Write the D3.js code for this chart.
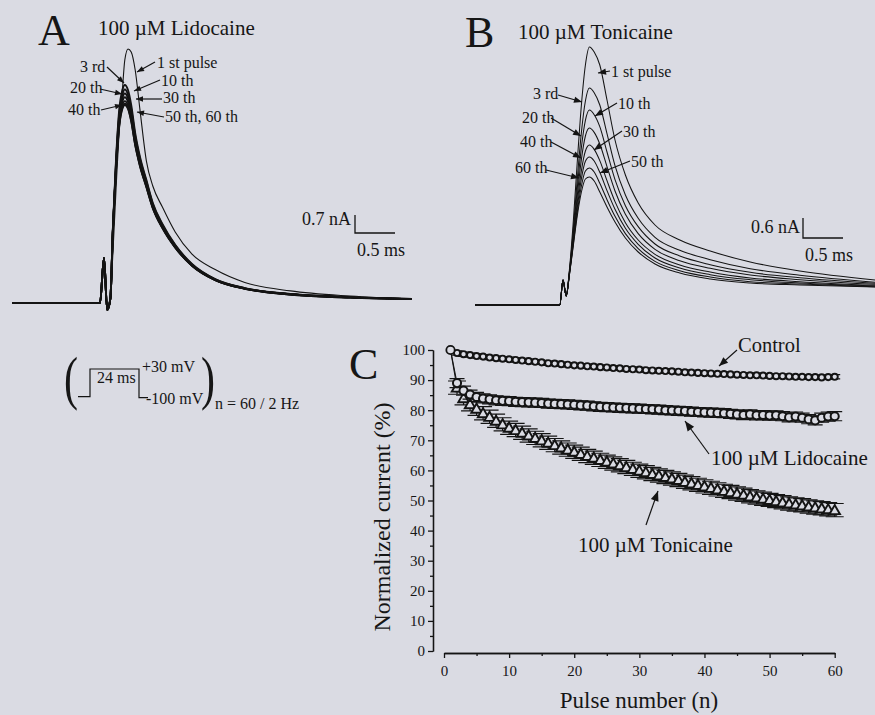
<!DOCTYPE html>
<html><head><meta charset="utf-8">
<script src="https://cdn.jsdelivr.net/npm/d3@7"></script>
<style>
body{margin:0;background:#dadbe3}
svg{display:block}
text{font-family:"Liberation Serif","Times New Roman",serif;fill:#161616}
</style>
</head><body>
<svg id="fig" width="875" height="715"></svg>
<script>
// ---------------- DATA ----------------
// Panel C: normalized current (%) for pulse numbers 1..60
const pulseNumbers = d3.range(1, 61);
const controlPct = [100,99,98.6,98.3,98,97.8,97.5,97.3,97.1,96.9,96.7,96.5,96.3,96.1,95.9,95.6,95.5,95.3,95.1,94.9,
  94.8,94.6,94.5,94.3,94.2,94,93.9,93.7,93.6,93.5,93.3,93.2,93.1,93,92.9,92.8,92.6,92.5,92.4,92.3,
  92.2,92.1,92,91.9,91.8,91.7,91.6,91.6,91.5,91.4,91.3,91.3,91.2,91.1,91.1,91,91,90.9,91,91.1];
const lidocainePct = [100,89,86.5,85.2,84.4,83.9,83.6,83.3,83.1,83,82.8,82.7,82.6,82.5,82.4,82.2,82.1,82,81.9,81.8,
  81.6,81.5,81.3,81.1,81,80.9,80.8,80.7,80.6,80.5,80.4,80.3,80.2,80,79.9,79.8,79.7,79.5,79.4,79.3,
  79.2,79.1,79,78.8,78.6,78.4,78.6,78.3,78.4,78.2,78.3,78,77.6,77.9,77.5,77,76.6,77.5,77.9,78];
const tonicainePct = [100,87.5,84,82,80.5,79,77.8,76.5,75.3,74.2,73.4,72.5,71.6,70.8,70,69.2,68.4,67.6,66.9,66.2,
  65.5,64.8,64.2,63.5,62.9,62.3,61.7,61.1,60.5,59.9,59.4,58.8,58.3,57.8,57.3,56.8,56.2,55.7,55.2,54.7,
  54.2,53.7,53.2,52.8,52.3,51.9,51.4,51,50.6,50.2,49.8,49.4,49,48.7,48.4,48,47.7,47.4,47.1,46.8];
const seriesNames = ["Control", "100 µM Lidocaine", "100 µM Tonicaine"];
const seriesSEM = [0.7, 1.5, 2.2];
const yTicksC = [0,10,20,30,40,50,60,70,80,90,100];
const xTicksC = [0,10,20,30,40,50,60];

// Panel A: current traces (time ms, current nA), 100 µM Lidocaine
const timeA = [0,1.1,1.15,1.19,1.23,1.26,1.3,1.34,1.38,1.41,1.45,1.49,1.54,1.6,1.68,1.76,1.88,2.04,2.25,2.54,2.91,3.48,4.23,5.0];
const a01 = [0,0,1.75,-0.27,0.19,1.87,4.4,6.73,8.29,9.45,9.88,9.76,9.06,7.5,5.52,4.55,3.73,2.76,1.9,1.3,0.8,0.47,0.27,0.16];
const a03 = [0,0,1.75,-0.27,0.19,2.84,5.56,7.5,8.28,8.48,8.28,7.7,6.61,5.68,4.78,3.89,3.07,2.26,1.52,0.93,0.58,0.35,0.23,0.16];
const a10 = [0,0,1.75,-0.27,0.19,2.8,5.45,7.35,8.1,8.3,8.1,7.55,6.5,5.6,4.72,3.85,3.04,2.24,1.5,0.92,0.57,0.35,0.23,0.16];
const a20 = [0,0,1.75,-0.27,0.19,2.78,5.38,7.22,7.97,8.15,7.96,7.42,6.4,5.52,4.66,3.8,3.0,2.21,1.49,0.91,0.57,0.34,0.22,0.15];
const a30 = [0,0,1.75,-0.27,0.19,2.75,5.3,7.1,7.83,8.0,7.82,7.3,6.3,5.45,4.6,3.76,2.97,2.19,1.47,0.9,0.56,0.34,0.22,0.15];
const a40 = [0,0,1.75,-0.27,0.19,2.72,5.22,6.98,7.7,7.85,7.68,7.18,6.22,5.38,4.55,3.72,2.94,2.17,1.46,0.9,0.56,0.34,0.22,0.15];
const a50 = [0,0,1.75,-0.27,0.19,2.7,5.17,6.9,7.6,7.75,7.59,7.1,6.16,5.34,4.52,3.7,2.92,2.16,1.45,0.89,0.55,0.33,0.21,0.15];
const a60 = [0,0,1.75,-0.27,0.19,2.69,5.14,6.86,7.56,7.7,7.55,7.07,6.14,5.32,4.5,3.69,2.91,2.15,1.45,0.89,0.55,0.33,0.21,0.15];

// Panel B: current traces (time ms, current nA), 100 µM Tonicaine
const timeB = [0,1.06,1.1,1.14,1.18,1.23,1.28,1.33,1.38,1.43,1.49,1.56,1.65,1.75,1.88,2.04,2.25,2.56,2.94,3.44,4.06,5.0];
const b01 = [0,0,0.75,0.27,1.05,2.55,4.35,6.0,7.2,7.74,7.59,7.2,6.15,4.95,3.9,3.06,2.4,1.95,1.62,1.29,1.02,0.75];
const b03 = [0,0,0.75,0.27,1.0,2.31,3.83,5.18,6.12,6.51,6.37,6.0,5.14,4.18,3.3,2.6,2.03,1.64,1.36,1.09,0.89,0.68];
const b10 = [0,0,0.75,0.27,0.98,2.19,3.55,4.73,5.54,5.85,5.71,5.35,4.59,3.76,2.98,2.35,1.83,1.47,1.21,0.98,0.82,0.65];
const b20 = [0,0,0.75,0.27,0.96,2.08,3.32,4.37,5.07,5.31,5.18,4.83,4.15,3.42,2.72,2.14,1.67,1.33,1.1,0.9,0.76,0.62];
const b30 = [0,0,0.75,0.27,0.94,1.98,3.11,4.03,4.62,4.8,4.67,4.33,3.73,3.1,2.47,1.95,1.52,1.2,0.99,0.81,0.7,0.59];
const b40 = [0,0,0.75,0.27,0.92,1.92,2.95,3.79,4.31,4.44,4.32,3.98,3.43,2.87,2.3,1.82,1.41,1.11,0.91,0.76,0.66,0.57];
const b50 = [0,0,0.75,0.27,0.91,1.85,2.81,3.57,4.02,4.11,3.99,3.65,3.16,2.66,2.14,1.69,1.31,1.03,0.84,0.7,0.63,0.55];
const b60 = [0,0,0.75,0.27,0.9,1.8,2.7,3.39,3.78,3.84,3.72,3.39,2.94,2.49,2.01,1.59,1.23,0.96,0.78,0.66,0.6,0.54];

const scaleBarA = {nA: 0.7, ms: 0.5};
const scaleBarB = {nA: 0.6, ms: 0.5};

// ---------------- DRAWING ----------------
const ink = "#141414";
const bg = "#dadbe3";
const svg = d3.select("#fig");

function txt(g, s, x, y, size, anchor) {
  return g.append("text").attr("x", x).attr("y", y).attr("font-size", size)
    .attr("text-anchor", anchor || "start").text(s);
}
function arrow(g, x1, y1, x2, y2, head) {
  head = head || 8;
  g.append("line").attr("x1", x1).attr("y1", y1).attr("x2", x2).attr("y2", y2)
    .attr("stroke", ink).attr("stroke-width", 1.2);
  const a = Math.atan2(y2 - y1, x2 - x1);
  const w = head * 0.4;
  const bx = x2 - head * Math.cos(a), by = y2 - head * Math.sin(a);
  g.append("path").attr("d",
    `M${x2},${y2}L${bx - w * Math.sin(a)},${by + w * Math.cos(a)}L${bx + w * Math.sin(a)},${by - w * Math.cos(a)}Z`)
    .attr("fill", ink);
}

// ---- Panel A ----
const gA = svg.append("g");
const xA = d3.scaleLinear([0, 5], [12, 412]);
const yA = d3.scaleLinear([0, 0.7], [303, 285]);
const lineA = d3.line().x((d, i) => xA(timeA[i])).y(d => yA(d)).curve(d3.curveMonotoneX);
[a60, a50, a40, a30, a20, a10, a03].forEach(tr => {
  gA.append("path").attr("d", lineA(tr)).attr("fill", "none").attr("stroke", ink).attr("stroke-width", 1.9);
});
gA.append("path").attr("d", lineA(a01)).attr("fill", "none").attr("stroke", ink).attr("stroke-width", 1.1);

txt(gA, "A", 38, 45, 44);
txt(gA, "100 µM  Lidocaine", 98, 35, 21);
const labA = [
  ["3 rd", 80, 72, "start", [107, 67, 124, 83]],
  ["20 th", 70, 93, "start", [100, 89, 122, 94]],
  ["40 th", 68, 115, "start", [101, 110, 122, 105]],
  ["1 st pulse", 157, 68, "start", [155, 62, 137, 72]],
  ["10 th", 161, 86, "start", [160, 80, 134, 91]],
  ["30 th", 163, 103, "start", [162, 99, 136, 99]],
  ["50 th, 60 th", 165, 122, "start", [164, 117, 137, 112]]
];
labA.forEach(l => { txt(gA, l[0], l[1], l[2], 16, l[3]); arrow(gA, ...l[4], 7); });
{
  const x0 = 355, y0 = 233;
  const h = yA(0) - yA(scaleBarA.nA), w = xA(scaleBarA.ms) - xA(0);
  gA.append("path").attr("d", `M${x0},${y0 - h}V${y0}H${x0 + w}`).attr("fill", "none")
    .attr("stroke", ink).attr("stroke-width", 1.3);
  txt(gA, scaleBarA.nA + " nA", 351, 225, 18, "end");
  txt(gA, scaleBarA.ms + " ms", 357, 256, 18);
}

// ---- Panel B ----
const gB = svg.append("g");
const xB = d3.scaleLinear([0, 5], [475, 875]);
const yB = d3.scaleLinear([0, 0.6], [305, 285]);
const lineB = d3.line().x((d, i) => xB(timeB[i])).y(d => yB(d)).curve(d3.curveMonotoneX);
[b60, b50, b40, b30, b20, b10, b03, b01].forEach(tr => {
  gB.append("path").attr("d", lineB(tr)).attr("fill", "none").attr("stroke", ink).attr("stroke-width", 1.05);
});
txt(gB, "B", 465, 47, 44);
txt(gB, "100 µM  Tonicaine", 518, 39, 21);
const labB = [
  ["1 st pulse", 611, 77, [610, 71, 598, 73]],
  ["3 rd", 533, 99, [558, 95, 582, 102]],
  ["10 th", 618, 109, [617, 103, 595, 116]],
  ["20 th", 522, 123, [551, 118, 581, 136]],
  ["30 th", 623, 137, [622, 131, 594, 150]],
  ["40 th", 520, 147, [551, 142, 581, 158]],
  ["50 th", 631, 167, [630, 161, 600, 173]],
  ["60 th", 515, 173, [546, 170, 579, 178]]
];
labB.forEach(l => { txt(gB, l[0], l[1], l[2], 16); arrow(gB, ...l[3], 8); });
{
  const x0 = 803, y0 = 238;
  const h = yB(0) - yB(scaleBarB.nA), w = xB(scaleBarB.ms) - xB(0);
  gB.append("path").attr("d", `M${x0},${y0 - h}V${y0}H${x0 + w}`).attr("fill", "none")
    .attr("stroke", ink).attr("stroke-width", 1.3);
  txt(gB, scaleBarB.nA + " nA", 800, 233, 18, "end");
  txt(gB, scaleBarB.ms + " ms", 805, 261, 18);
}

// ---- Protocol inset ----
const gP = svg.append("g");
gP.append("text").attr("font-size", 42).attr("transform", "translate(64,398) scale(1,1.42)").text("(");
gP.append("text").attr("font-size", 42).attr("transform", "translate(201,398) scale(1,1.42)").text(")");
gP.append("path").attr("d", "M78,396.7H90V369H139V397.7H148").attr("fill", "none")
  .attr("stroke", ink).attr("stroke-width", 1.2);
txt(gP, "24 ms", 97, 383, 16);
txt(gP, "+30 mV", 142, 372, 16);
txt(gP, "-100 mV", 146, 404, 16);
txt(gP, "n = 60 / 2 Hz", 215, 409, 16);

// ---- Panel C ----
const gC = svg.append("g");
const xC = d3.scaleLinear([0, 60], [444, 834.7]);
const yC = d3.scaleLinear([0, 100], [651, 350]);

function styleAxis(g) {
  g.attr("font-family", null).attr("font-size", null);
  g.selectAll("path,line").attr("stroke", ink).attr("stroke-width", 1.3);
  g.selectAll("text").attr("font-size", 15).attr("fill", ink);
}
gC.append("g").attr("transform", "translate(433,0)")
  .call(d3.axisLeft(yC).tickValues(yTicksC).tickSize(5).tickSizeOuter(0).tickPadding(3)).call(styleAxis);
gC.append("g").attr("transform", "translate(433,0)")
  .call(d3.axisLeft(yC).tickValues(yTicksC.slice(0, -1).map(v => v + 5)).tickSize(3).tickSizeOuter(0).tickFormat(""))
  .call(styleAxis);
gC.append("g").attr("transform", "translate(0,653)")
  .call(d3.axisBottom(xC).tickValues(xTicksC).tickSize(5).tickSizeOuter(0).tickPadding(7)).call(styleAxis);
gC.append("g").attr("transform", "translate(0,653)")
  .call(d3.axisBottom(xC).tickValues(xTicksC.slice(0, -1).map(v => v + 5)).tickSize(3).tickSizeOuter(0).tickFormat(""))
  .call(styleAxis);

txt(gC, "C", 349, 379, 44);
gC.append("text").attr("font-size", 24).attr("text-anchor", "middle")
  .attr("transform", "translate(390,517) rotate(-90)").text("Normalized current (%)");
txt(gC, "Pulse number (n)", 639, 708, 23, "middle");

const series = [
  {vals: controlPct, sem: seriesSEM[0], sym: d3.symbolCircle, size: 30, cap: 11, sw: 1.9},
  {vals: lidocainePct, sem: seriesSEM[1], sym: d3.symbolCircle, size: 52, cap: 15, sw: 2},
  {vals: tonicainePct, sem: seriesSEM[2], sym: d3.symbolTriangle, size: 48, cap: 18, sw: 1.9}
];
const lineC = d3.line().x((d, i) => xC(pulseNumbers[i])).y(d => yC(d));
series.forEach(s => {
  gC.append("path").attr("d", lineC(s.vals)).attr("fill", "none").attr("stroke", ink).attr("stroke-width", 1.1);
});
series.slice().reverse().forEach(s => {
  const g = gC.append("g");
  s.vals.forEach((v, i) => {
    if (i === 0) return;
    const x = xC(pulseNumbers[i]);
    const yt = yC(v + s.sem), yb = yC(v - s.sem);
    g.append("path").attr("d", `M${x},${yt}V${yb}M${x - s.cap / 2},${yt}h${s.cap}M${x - s.cap / 2},${yb}h${s.cap}`)
      .attr("stroke", ink).attr("stroke-width", 1.2).attr("fill", "none");
  });
  s.vals.forEach((v, i) => {
    if (i === 0) return;
    g.append("path").attr("d", d3.symbol(s.sym, s.size)())
      .attr("transform", `translate(${xC(pulseNumbers[i])},${yC(v) + (s.sym === d3.symbolTriangle ? 1 : 0)})`)
      .attr("fill", bg).attr("stroke", ink).attr("stroke-width", s.sw);
  });
});
gC.append("path").attr("d", d3.symbol(d3.symbolCircle, 55)())
  .attr("transform", `translate(${xC(pulseNumbers[0])},${yC(controlPct[0])})`)
  .attr("fill", bg).attr("stroke", ink).attr("stroke-width", 1.8);

txt(gC, seriesNames[0], 738, 352, 20.5);
arrow(gC, 737, 350, 719, 366, 9);
txt(gC, seriesNames[1], 711, 465, 21);
arrow(gC, 709, 454, 685, 421, 10);
txt(gC, seriesNames[2], 578, 552, 21);
arrow(gC, 646, 525, 658, 491, 10);
</script>
</body></html>
